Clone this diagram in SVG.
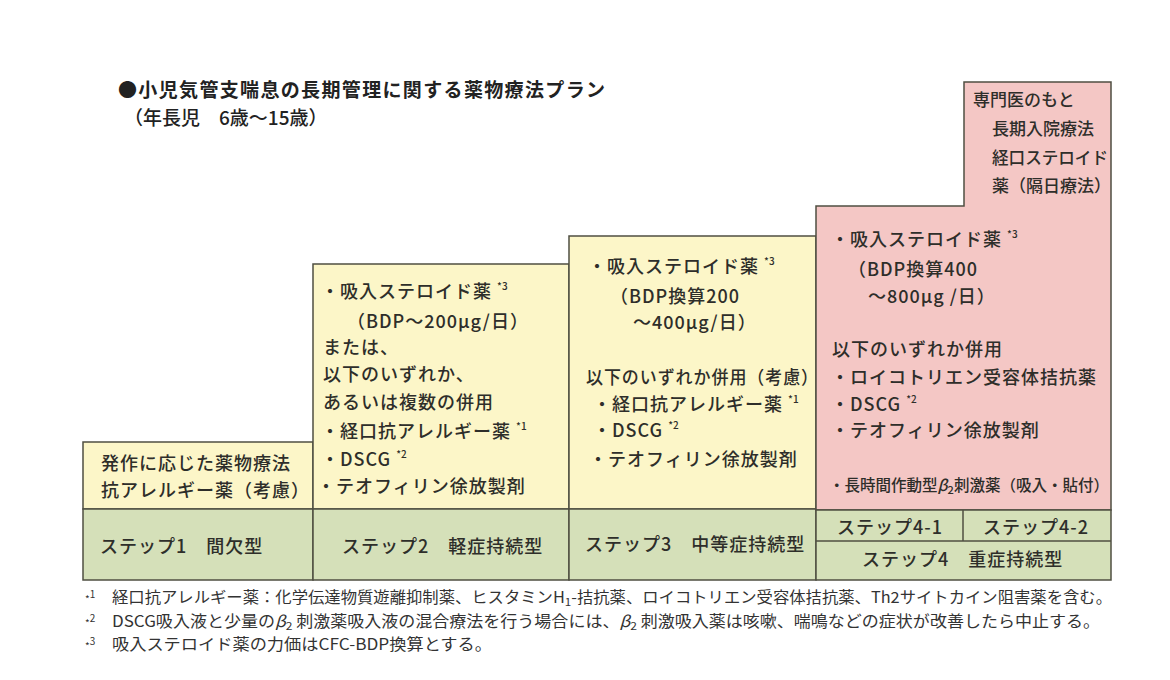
<svg xmlns="http://www.w3.org/2000/svg" width="1170" height="680" viewBox="0 0 1170 680">
<style>
.t{font-family:"Noto Sans CJK JP","Noto Sans",sans-serif;fill:#2e2e2a;font-size:18px;letter-spacing:1px;font-weight:500}
.ti{font-family:"Noto Sans CJK JP","Noto Sans",sans-serif;fill:#222;font-size:19px;font-weight:700}
.fn{font-family:"Noto Sans CJK JP","Noto Sans",sans-serif;fill:#333;font-size:15.5px}
.sup{font-size:10px;letter-spacing:0}
.sm{font-size:11px;letter-spacing:0}
.yb{fill:#fcf6c8;stroke:#4f4f42;stroke-width:1.5}
.gb{fill:#d5e0b9;stroke:#4f4f42;stroke-width:1.5}
.pb{fill:#f4c7c5;stroke:#4f4f42;stroke-width:1.5}
.ln{stroke:#4f4f42;stroke-width:1.5;fill:none}
</style>
<rect width="1170" height="680" fill="#ffffff"/>
<g id="title">
<text class="ti" x="118" y="97" textLength="487" lengthAdjust="spacing">●小児気管支喘息の長期管理に関する薬物療法プラン</text>
<text class="ti" x="124" y="125" style="font-weight:500">（年長児　6歳～15歳）</text>
</g>
<g id="step1">
<rect class="yb" x="83" y="442" width="230" height="67"/>
<rect class="gb" x="83" y="509" width="230" height="71"/>
<text class="t" x="101" y="470">発作に応じた薬物療法</text>
<text class="t" x="101" y="497">抗アレルギー薬（考慮）</text>
<text class="t" x="100" y="553">ステップ1　間欠型</text>
</g>
<g id="step2">
<rect class="yb" x="313" y="264" width="256" height="245"/>
<rect class="gb" x="313" y="509" width="256" height="71"/>
<text class="t" x="321" y="298">・吸入ステロイド薬 <tspan class="sup" dy="-8">*3</tspan></text>
<text class="t" x="347" y="328">（BDP～200μg/日）</text>
<text class="t" x="323" y="354">または、</text>
<text class="t" x="323" y="381">以下のいずれか、</text>
<text class="t" x="323" y="409">あるいは複数の併用</text>
<text class="t" x="321" y="438">・経口抗アレルギー薬 <tspan class="sup" dy="-8">*1</tspan></text>
<text class="t" x="321" y="466">・DSCG <tspan class="sup" dy="-8">*2</tspan></text>
<text class="t" x="317" y="493">・テオフィリン徐放製剤</text>
<text class="t" x="342" y="553">ステップ2　軽症持続型</text>
</g>
<g id="step3">
<rect class="yb" x="569" y="236" width="247" height="273"/>
<rect class="gb" x="569" y="509" width="247" height="71"/>
<text class="t" x="588" y="273">・吸入ステロイド薬 <tspan class="sup" dy="-8">*3</tspan></text>
<text class="t" x="610" y="303">（BDP換算200</text>
<text class="t" x="633" y="329">～400μg/日）</text>
<text class="t" x="586" y="384" textLength="233" lengthAdjust="spacingAndGlyphs">以下のいずれか併用（考慮）</text>
<text class="t" x="593" y="411">・経口抗アレルギー薬 <tspan class="sup" dy="-8">*1</tspan></text>
<text class="t" x="593" y="437">・DSCG <tspan class="sup" dy="-8">*2</tspan></text>
<text class="t" x="589" y="466">・テオフィリン徐放製剤</text>
<text class="t" x="585" y="551">ステップ3　中等症持続型</text>
</g>
<g id="step4">
<path class="pb" d="M816,206 H964 V82 H1111 V510 H816 Z"/>
<rect class="gb" x="816" y="510" width="295" height="70"/>
<line class="ln" x1="816" y1="541" x2="1111" y2="541"/>
<line class="ln" x1="963" y1="510" x2="963" y2="541"/>
<text class="t" x="973" y="106" style="font-size:17px;letter-spacing:0">専門医のもと</text>
<text class="t" x="992" y="135" style="font-size:17px;letter-spacing:0">長期入院療法</text>
<text class="t" x="992" y="164" style="font-size:17px;letter-spacing:0" textLength="116" lengthAdjust="spacingAndGlyphs">経口ステロイド</text>
<text class="t" x="992" y="192" style="font-size:17px;letter-spacing:0">薬（隔日療法）</text>
<text class="t" x="831" y="246">・吸入ステロイド薬 <tspan class="sup" dy="-8">*3</tspan></text>
<text class="t" x="848" y="276">（BDP換算400</text>
<text class="t" x="868" y="303">～800μg /日）</text>
<text class="t" x="832" y="356">以下のいずれか併用</text>
<text class="t" x="831" y="384">・ロイコトリエン受容体拮抗薬</text>
<text class="t" x="831" y="411">・DSCG <tspan class="sup" dy="-8">*2</tspan></text>
<text class="t" x="831" y="437">・テオフィリン徐放製剤</text>
<text class="t" x="829" y="491" style="font-size:15.5px;letter-spacing:0" textLength="280" lengthAdjust="spacingAndGlyphs">・長時間作動型<tspan font-style="italic">β</tspan><tspan class="sm" dy="3">2</tspan><tspan dy="-3">刺激薬（吸入・貼付）</tspan></text>
<text class="t" x="837" y="534">ステップ4-1</text>
<text class="t" x="983" y="534">ステップ4-2</text>
<text class="t" x="862" y="566">ステップ4　重症持続型</text>
</g>
<g id="connectors"/>
<g id="footnotes">
<text class="fn" x="85" y="603"><tspan class="sup">*</tspan><tspan class="sup" dy="-5">1</tspan></text>
<text class="fn" x="112" y="603" textLength="1000" lengthAdjust="spacingAndGlyphs">経口抗アレルギー薬：化学伝達物質遊離抑制薬、ヒスタミンH<tspan class="sm" dy="3">1</tspan><tspan dy="-3">-拮抗薬、ロイコトリエン受容体拮抗薬、Th2サイトカイン阻害薬を含む。</tspan></text>
<text class="fn" x="85" y="627"><tspan class="sup">*</tspan><tspan class="sup" dy="-5">2</tspan></text>
<text class="fn" x="112" y="627" textLength="988" lengthAdjust="spacingAndGlyphs">DSCG吸入液と少量の<tspan font-style="italic">β</tspan><tspan class="sm" dy="3">2</tspan><tspan dy="-3"> 刺激薬吸入液の混合療法を行う場合には、</tspan><tspan font-style="italic">β</tspan><tspan class="sm" dy="3">2</tspan><tspan dy="-3"> 刺激吸入薬は咳嗽、喘鳴などの症状が改善したら中止する。</tspan></text>
<text class="fn" x="85" y="650"><tspan class="sup">*</tspan><tspan class="sup" dy="-5">3</tspan></text>
<text class="fn" x="112" y="650" textLength="380" lengthAdjust="spacingAndGlyphs">吸入ステロイド薬の力価はCFC-BDP換算とする。</text>
</g>
</svg>
